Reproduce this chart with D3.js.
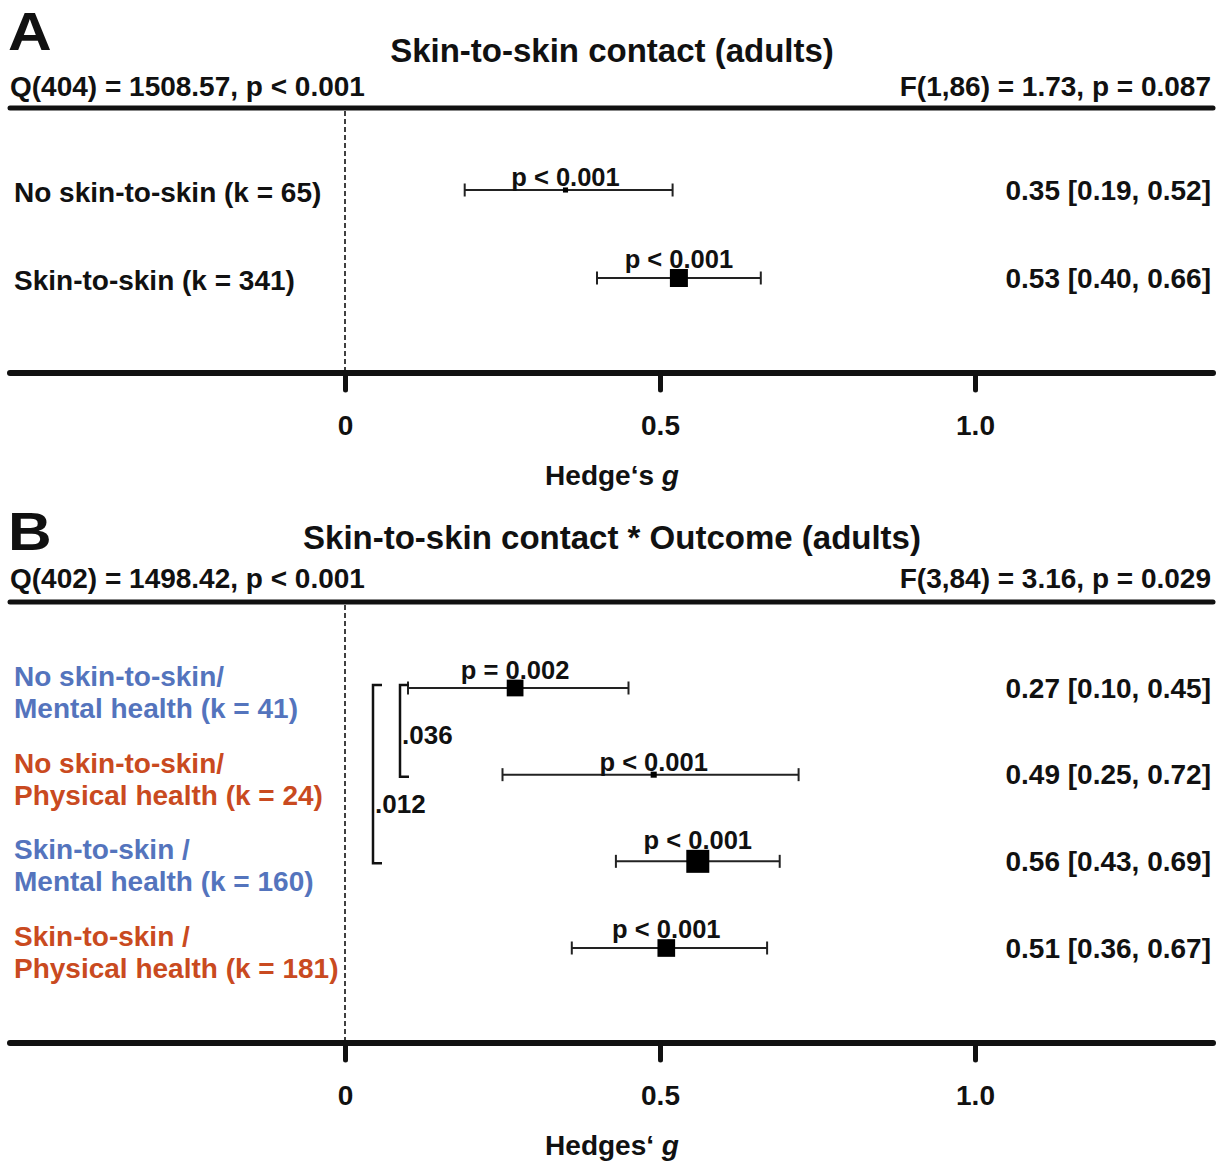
<!DOCTYPE html>
<html><head><meta charset="utf-8">
<script src="https://cdn.jsdelivr.net/npm/d3@7"></script>
<style>
body{margin:0;background:#fff}
svg text{font-family:"Liberation Sans",Arial,sans-serif;font-weight:bold;fill:#111}
</style>
</head><body>
<svg id="chart" width="1223" height="1164"></svg>
<script>
// ---------- shared axis ----------
const tickValues = [0, 0.5, 1.0];
const tickLabels = ["0", "0.5", "1.0"];

// ---------- Panel A ----------
const titleA = "Skin-to-skin contact (adults)";
const qTextA = "Q(404) = 1508.57, p < 0.001";
const fTextA = "F(1,86) = 1.73, p = 0.087";
const axisLabelA = ["Hedge\u2018s ", "g"];
const catsA = ["No skin-to-skin (k = 65)", "Skin-to-skin (k = 341)"];
const estA = [0.35, 0.53];
const lowA = [0.19, 0.40];
const highA = [0.52, 0.66];
const weightA = [0.08, 1.0];
const pA = ["p < 0.001", "p < 0.001"];

// ---------- Panel B ----------
const titleB = "Skin-to-skin contact * Outcome (adults)";
const qTextB = "Q(402) = 1498.42, p < 0.001";
const fTextB = "F(3,84) = 3.16, p = 0.029";
const axisLabelB = ["Hedges\u2018 ", "g"];
const catsB = [
  ["No skin-to-skin/", "Mental health (k = 41)"],
  ["No skin-to-skin/", "Physical health (k = 24)"],
  ["Skin-to-skin /", "Mental health (k = 160)"],
  ["Skin-to-skin /", "Physical health (k = 181)"]
];
const outcomeB = ["Mental", "Physical", "Mental", "Physical"];
const estB = [0.27, 0.49, 0.56, 0.51];
const lowB = [0.10, 0.25, 0.43, 0.36];
const highB = [0.45, 0.72, 0.69, 0.67];
const weightB = [0.53, 0.07, 1.0, 0.59];
const pB = ["p = 0.002", "p < 0.001", "p < 0.001", "p < 0.001"];
const contrastFrom = [0, 0];
const contrastTo = [1, 2];
const contrastP = [".036", ".012"];

const outcomeColor = d3.scaleOrdinal().domain(["Mental", "Physical"]).range(["#5474bd", "#c94a20"]);
const fmt = d3.format(".2f");

const svg = d3.select("#chart");
const x = d3.scaleLinear().domain([0, 1]).range([345, 975]);
const LEFT = 10, RIGHT = 1213;
const INK = "#111";
const FS = "28px";

function panel(cfg) {
  const g = svg.append("g");
  // letter
  g.append("text").attr("transform", `translate(8,${cfg.letterY}) scale(1.14,1)`)
    .attr("dominant-baseline", "central").style("font-size", "53px").text(cfg.letter);
  // title
  g.append("text").attr("x", 612).attr("y", cfg.titleY).attr("text-anchor", "middle")
    .attr("dominant-baseline", "central").style("font-size", "33px").text(cfg.title);
  // Q and F texts
  g.append("text").attr("x", LEFT).attr("y", cfg.statY).attr("dominant-baseline", "central")
    .style("font-size", FS).text(cfg.q);
  g.append("text").attr("x", RIGHT - 2).attr("y", cfg.statY).attr("dominant-baseline", "central")
    .attr("text-anchor", "end").style("font-size", FS).text(cfg.f);
  // top rule
  g.append("line").attr("x1", LEFT).attr("x2", RIGHT).attr("y1", cfg.ruleY).attr("y2", cfg.ruleY)
    .attr("stroke", INK).attr("stroke-width", 5).attr("stroke-linecap", "round");
  // dashed zero line
  g.append("line").attr("x1", x(0)).attr("x2", x(0)).attr("y1", cfg.ruleY + 3).attr("y2", cfg.axisY)
    .attr("stroke", INK).attr("stroke-width", 1.6).attr("stroke-dasharray", "5,3");

  // axis
  g.append("line").attr("x1", LEFT).attr("x2", RIGHT).attr("y1", cfg.axisY).attr("y2", cfg.axisY)
    .attr("stroke", INK).attr("stroke-width", 6).attr("stroke-linecap", "round");
  const ax = g.append("g").attr("transform", `translate(0,${cfg.axisY})`)
    .call(d3.axisBottom(x).tickValues(tickValues).tickFormat((d, i) => tickLabels[i]).tickSize(17));
  ax.select(".domain").remove();
  ax.selectAll(".tick line").attr("stroke", INK).attr("stroke-width", 5).attr("stroke-linecap", "round");
  ax.selectAll(".tick text").attr("y", 52).attr("dy", null).attr("dominant-baseline", "central")
    .style("font-size", FS).style("font-family", '"Liberation Sans",Arial,sans-serif').attr("fill", INK);
  const al = g.append("text").attr("x", 612).attr("y", cfg.axisY + 102).attr("text-anchor", "middle")
    .attr("dominant-baseline", "central").style("font-size", FS);
  al.append("tspan").text(cfg.axisLabel[0]);
  al.append("tspan").style("font-style", "italic").text(cfg.axisLabel[1]);

  // rows
  const n = cfg.est.length;
  const idx = d3.range(n);
  const y = d3.scalePoint().domain(idx).range(cfg.rowRange);
  const size = d3.scaleSqrt().domain([0, 1]).range([0, cfg.maxSize]);
  const cap = 6.5;

  const rows = g.selectAll(".row").data(idx).join("g").attr("class", "row");
  rows.append("line").attr("x1", i => x(cfg.low[i])).attr("x2", i => x(cfg.high[i]))
    .attr("y1", i => y(i)).attr("y2", i => y(i)).attr("stroke", "#222").attr("stroke-width", 2);
  rows.append("line").attr("x1", i => x(cfg.low[i])).attr("x2", i => x(cfg.low[i]))
    .attr("y1", i => y(i) - cap).attr("y2", i => y(i) + cap).attr("stroke", "#222").attr("stroke-width", 2);
  rows.append("line").attr("x1", i => x(cfg.high[i])).attr("x2", i => x(cfg.high[i]))
    .attr("y1", i => y(i) - cap).attr("y2", i => y(i) + cap).attr("stroke", "#222").attr("stroke-width", 2);
  rows.append("rect")
    .attr("x", i => x(cfg.est[i]) - size(cfg.weight[i]) / 2)
    .attr("y", i => y(i) - size(cfg.weight[i]) / 2)
    .attr("width", i => size(cfg.weight[i])).attr("height", i => size(cfg.weight[i]))
    .attr("fill", "#000");
  rows.append("text").attr("x", i => x(cfg.est[i]))
    .attr("y", i => y(i) - size(cfg.weight[i]) / 2 - 1)
    .attr("text-anchor", "middle").style("font-size", "25.5px").text(i => cfg.p[i]);
  rows.append("text").attr("x", RIGHT - 2).attr("y", i => y(i))
    .attr("text-anchor", "end").attr("dominant-baseline", "central").style("font-size", FS)
    .text(i => `${fmt(cfg.est[i])} [${fmt(cfg.low[i])}, ${fmt(cfg.high[i])}]`);

  // category labels
  if (cfg.twoLine) {
    const lab = rows.append("text").attr("x", 14).attr("y", i => y(i))
      .attr("dominant-baseline", "central").style("font-size", FS)
      .style("fill", i => outcomeColor(cfg.outcome[i]));
    lab.append("tspan").attr("x", 14).attr("dy", -12).text(i => cfg.cats[i][0]);
    lab.append("tspan").attr("x", 14).attr("dy", 32).text(i => cfg.cats[i][1]);
  } else {
    rows.append("text").attr("x", 14).attr("y", i => y(i) + 2)
      .attr("dominant-baseline", "central").style("font-size", FS).text(i => cfg.cats[i]);
  }

  // contrast brackets
  if (cfg.cFrom) {
    const bx = [400, 373];
    cfg.cFrom.forEach((f, k) => {
      const t = cfg.cTo[k];
      const y1 = y(f) - 3, y2 = y(t) + 2;
      g.append("path")
        .attr("d", `M${bx[k] + 9},${y1}H${bx[k]}V${y2}H${bx[k] + 9}`)
        .attr("fill", "none").attr("stroke", INK).attr("stroke-width", 2.5);
      g.append("text").attr("x", bx[k] + 2).attr("y", (y(f) + y(t)) / 2 + 4 + k * 25)
        .attr("dominant-baseline", "central").style("font-size", "26px").text(cfg.cP[k]);
    });
  }
}

panel({
  letter: "A", letterY: 32, title: titleA, titleY: 50, q: qTextA, f: fTextA, statY: 86,
  ruleY: 108, axisY: 373, axisLabel: axisLabelA,
  cats: catsA, est: estA, low: lowA, high: highA, weight: weightA, p: pA,
  rowRange: [190, 278], maxSize: 18, twoLine: false
});
panel({
  letter: "B", letterY: 532, title: titleB, titleY: 537, q: qTextB, f: fTextB, statY: 578,
  ruleY: 602, axisY: 1043, axisLabel: axisLabelB,
  cats: catsB, est: estB, low: lowB, high: highB, weight: weightB, p: pB, outcome: outcomeB,
  rowRange: [688, 948], maxSize: 23, twoLine: true,
  cFrom: contrastFrom, cTo: contrastTo, cP: contrastP
});
</script>
</body></html>
